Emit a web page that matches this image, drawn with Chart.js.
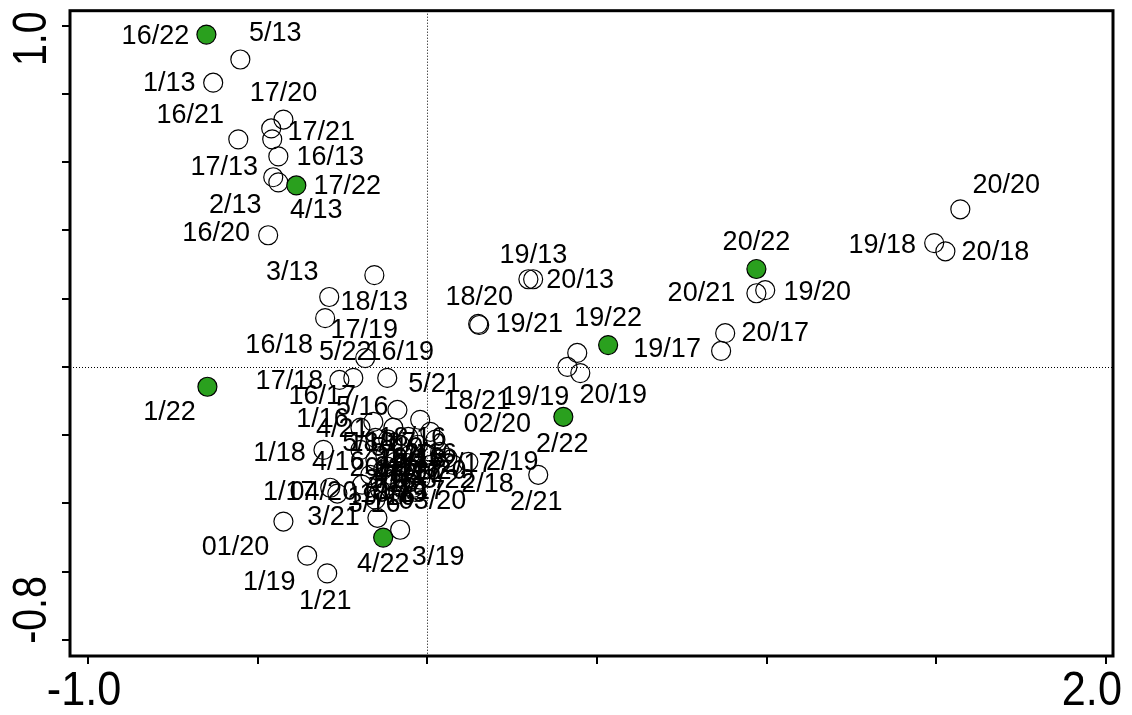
<!DOCTYPE html>
<html>
<head>
<meta charset="utf-8">
<script src="https://cdn.jsdelivr.net/npm/chart.js@4.4.1/dist/chart.umd.min.js"></script>
<style>
  html, body { margin: 0; padding: 0; background: #fff; }
</style>
</head>
<body>
<canvas id="biplot" width="1132" height="715"></canvas>
<script>
// sample scores (axis 1 / axis 2)
const pointLabels = [
  '16/22', '5/13', '1/13', '17/20', '16/21', '17/21', '17/13', '16/13', '2/13', '4/13',
  '17/22', '16/20', '3/13', '18/13', '16/18', '17/19', '5/22', '16/19', '17/18', '5/21',
  '16/17', '5/16', '1/16', '4/21', '18/21', '02/20', '1/18', '1/22', '2/22', '19/19',
  '20/19', '', '19/22', '19/13', '20/13', '18/20', '19/21', '20/20', '19/18', '20/18',
  '20/22', '20/21', '19/20', '20/17', '19/17', '2/19', '2/21', '2/18', '01/20', '1/19',
  '1/21', '3/21', '4/22', '3/19', '1/17', '04/20', '5/18', '4/16', '5/19', '3/17',
  '4/19', '3/18', '4/18', '5/17', '3/16', '03/20', '2/20', '3/22', '2/17', '4/17',
  '2/16', '18/16', '', '18/17', '', '18/18', '', '18/19', '', '19/16', '', '',
  '20/16', '17/16', '', '17/17', '', '16/16', '', ''
];
const xValues = [
  -0.651, -0.551, -0.631, -0.424, -0.557, -0.460, -0.457, -0.439, -0.454, -0.439,
  -0.386, -0.469, -0.156, -0.289, -0.301, -0.183, -0.218, -0.118, -0.259, -0.088,
  -0.159, -0.100, -0.197, -0.153, -0.021, 0.009, -0.306, -0.648, 0.401, 0.413,
  0.451, 0.442, 0.533, 0.298, 0.312, 0.150, 0.153, 1.571, 1.494, 1.527,
  0.970, 0.970, 0.996, 0.878, 0.866, 0.121, 0.327, 0.077, -0.424, -0.354,
  -0.295, -0.147, -0.130, -0.080, -0.286, -0.265, -0.197, -0.153, -0.124, -0.094,
  -0.065, -0.109, -0.080, -0.050, -0.139, -0.035, -0.006, 0.038, 0.059, 0.000,
  0.024, -0.056, -0.080, -0.115, -0.027, -0.050, -0.168, -0.094, -0.021, -0.153, 0.009, -0.192,
  -0.118, -0.071, -0.100, -0.041, -0.130, -0.062, -0.086, -0.109
];
const yValues = [
  0.974, 0.901, 0.833, 0.725, 0.667, 0.699, 0.667, 0.617, 0.556, 0.541,
  0.532, 0.386, 0.269, 0.205, 0.143, 0.026, -0.032, -0.032, -0.038, -0.126,
  -0.161, -0.178, -0.178, -0.208, -0.155, -0.190, -0.243, -0.058, -0.146, 0.000,
  -0.018, 0.041, 0.064, 0.257, 0.257, 0.126, 0.123, 0.462, 0.363, 0.339,
  0.287, 0.216, 0.225, 0.099, 0.047, -0.278, -0.316, -0.287, -0.453, -0.553,
  -0.605, -0.442, -0.500, -0.477, -0.354, -0.371, -0.243, -0.272, -0.257, -0.278,
  -0.301, -0.316, -0.345, -0.330, -0.360, -0.366, -0.301, -0.249, -0.266, -0.257,
  -0.213, -0.205, -0.228, -0.213, -0.228, -0.257, -0.316, -0.374, -0.330, -0.389, -0.287, -0.345,
  -0.292, -0.310, -0.336, -0.354, -0.301, -0.281, -0.362, -0.330
];
const highlighted = ['16/22', '17/22', '1/22', '20/22', '19/22', '2/22', '4/22'];

const xTicks = [-1.0, -0.5, 0, 0.5, 1.0, 1.5, 2.0];
const xTickLabels = ['-1.0', '', '', '', '', '', '2.0'];
const yTicks = [1.0, 0.8, 0.6, 0.4, 0.2, 0, -0.2, -0.4, -0.6, -0.8];
const yTickLabels = ['1.0', '', '', '', '', '', '', '', '', '-0.8'];

// where each text label sits relative to its point (px)
const labelNudge = [
  [-51, 2], [35, -26], [-44, 1], [0, -26], [-48, -24], [50, 4], [-48, 28], [52, 1], [-38, 28], [38, 28],
  [51, 1], [-52, -2], [-82, -3], [45, 6], [-46, 27], [-1, -28], [-8, -25], [13, -25], [-50, 2], [37, -25],
  [-51, -25], [-31, -20], [-38, -8], [-33, -8], [57, -18], [67, -7], [-44, 4], [-38, 26], [-1, 28], [-32, 31],
  [33, 22], [0, 0], [0, -27], [5, -24], [47, 1], [1, -26], [50, 0], [46, -24], [-52, 2], [50, 1],
  [0, -26], [-55, 0], [52, 2], [50, 0], [-54, -1], [44, 1], [-2, 28], [34, 20], [-48, 26], [-38, 27],
  [-2, 28], [-44, 0], [0, 27], [38, 28], [-41, 5], [-14, -1], [8, -6], [-37, 3], [12, -6], [6, 6],
  [-4, 4], [0, 6], [-8, 0], [6, -4], [-6, 15], [17, 10], [15, 2], [8, 29], [20, 7], [-10, 10],
  [-5, 15], [4, 2], [0, 0], [-6, 4], [0, 0], [2, 6], [0, 0], [-2, 0], [0, 0], [6, -2], [0, 0], [0, 0],
  [-4, 2], [4, 0], [0, 0], [-2, 4], [0, 0], [4, -4], [0, 0], [0, 0]
];

const points = xValues.map((x, i) => ({ x: x, y: yValues[i] }));
const fills = pointLabels.map(l => highlighted.includes(l) ? '#2aa01e' : 'rgba(0,0,0,0)');

const decorations = {
  id: 'decorations',
  beforeDatasetsDraw(chart) {
    const { ctx, chartArea: a, scales: { x, y } } = chart;
    ctx.save();
    ctx.strokeStyle = '#000';
    ctx.lineWidth = 1;
    ctx.setLineDash([1, 2]);
    const x0 = Math.round(x.getPixelForValue(0)) + 0.5;
    const y0 = Math.round(y.getPixelForValue(0)) + 0.5;
    ctx.beginPath();
    ctx.moveTo(x0, a.top); ctx.lineTo(x0, a.bottom);
    ctx.moveTo(a.left, y0); ctx.lineTo(a.right, y0);
    ctx.stroke();
    ctx.setLineDash([]);
    ctx.lineWidth = 3;
    ctx.strokeRect(a.left, a.top, a.width, a.height);
    ctx.restore();
  },
  afterDatasetsDraw(chart) {
    const { ctx } = chart;
    const meta = chart.getDatasetMeta(0);
    ctx.save();
    ctx.fillStyle = '#000';
    ctx.font = '27px "Liberation Sans", Arial, sans-serif';
    ctx.textAlign = 'center';
    ctx.textBaseline = 'middle';
    meta.data.forEach((pt, i) => {
      if (!pointLabels[i]) return;
      const [dx, dy] = labelNudge[i];
      ctx.fillText(pointLabels[i], pt.x + dx, pt.y + dy);
    });
    ctx.restore();
  },
  afterDraw(chart) {
    const { ctx, scales: { x, y } } = chart;
    ctx.save();
    ctx.fillStyle = '#000';
    ctx.font = '48px "Liberation Sans", Arial, sans-serif';
    ctx.textBaseline = 'middle';
    // x axis tick labels
    xTicks.forEach((v, i) => {
      if (!xTickLabels[i]) return;
      const px = x.getPixelForValue(v);
      ctx.save();
      ctx.translate(i === 0 ? px - 4 : px - 14, 692);
      ctx.scale(0.9, 1);
      ctx.textAlign = 'center';
      ctx.fillText(xTickLabels[i], 0, 0);
      ctx.restore();
    });
    // y axis tick labels, rotated
    yTicks.forEach((v, i) => {
      if (!yTickLabels[i]) return;
      const py = y.getPixelForValue(v);
      ctx.save();
      ctx.translate(33, i === 0 ? py + 13 : py - 30);
      ctx.rotate(-Math.PI / 2);
      ctx.scale(0.82, 1);
      ctx.textAlign = 'center';
      ctx.fillText(yTickLabels[i], 0, 0);
      ctx.restore();
    });
    ctx.restore();
  }
};

new Chart(document.getElementById('biplot'), {
  type: 'scatter',
  data: {
    datasets: [{
      data: points,
      pointRadius: 9.5,
      pointHoverRadius: 9.5,
      pointBorderWidth: 1.2,
      pointBorderColor: '#000',
      pointBackgroundColor: fills
    }]
  },
  options: {
    responsive: false,
    animation: false,
    events: [],
    layout: { padding: { left: 62, right: 19, top: 10, bottom: 51 } },
    plugins: { legend: { display: false }, tooltip: { enabled: false } },
    scales: {
      x: {
        type: 'linear',
        min: -1.053,
        max: 2.021,
        afterBuildTicks: s => { s.ticks = xTicks.map(v => ({ value: v })); },
        ticks: { display: false },
        grid: { drawOnChartArea: false, drawTicks: true, tickLength: 8, color: '#000', lineWidth: 2 },
        border: { display: false }
      },
      y: {
        type: 'linear',
        min: -0.847,
        max: 1.044,
        afterBuildTicks: s => { s.ticks = yTicks.map(v => ({ value: v })); },
        ticks: { display: false },
        grid: { drawOnChartArea: false, drawTicks: true, tickLength: 8, color: '#000', lineWidth: 2 },
        border: { display: false }
      }
    }
  },
  plugins: [decorations]
});
</script>
</body>
</html>
